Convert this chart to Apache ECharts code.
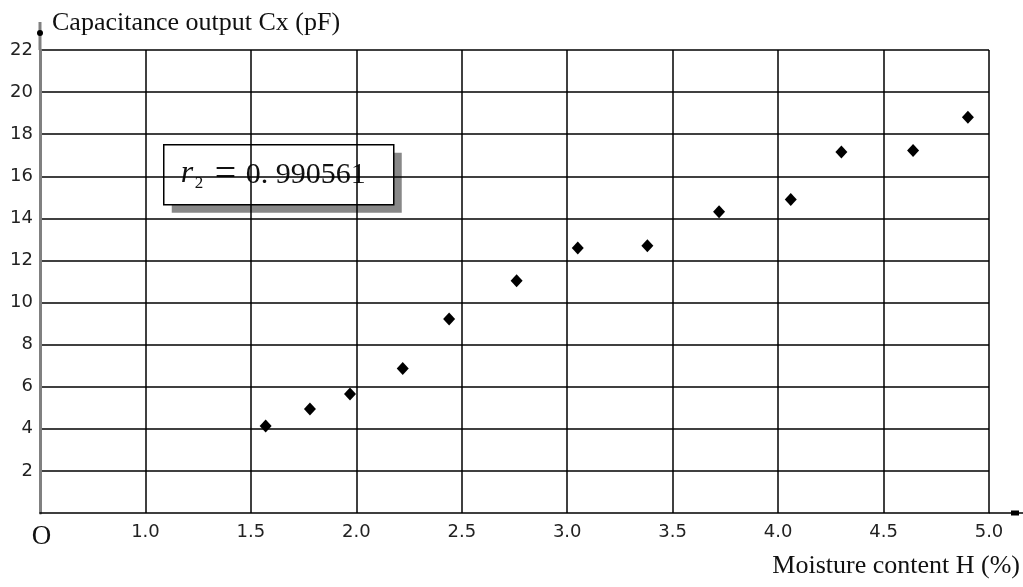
<!DOCTYPE html>
<html>
<head>
<meta charset="utf-8">
<script src="https://cdn.jsdelivr.net/npm/echarts@6/dist/echarts.min.js"></script>
<style>
  html, body { margin: 0; padding: 0; background: #fff; }
  #chart { width: 1023px; height: 587px; }
</style>
</head>
<body>
<div id="chart"></div>
<script>
// values
var moisture = [1.57, 1.78, 1.97, 2.22, 2.44, 2.76, 3.05, 3.38, 3.72, 4.06, 4.30, 4.64, 4.90];
var capacitance = [4.13, 4.94, 5.65, 6.87, 9.22, 11.04, 12.59, 12.70, 14.31, 14.90, 17.15, 17.23, 18.80];
var fitValue = '0. 990561';

var points = [];
for (var i = 0; i < moisture.length; i++) {
  points.push([moisture[i], capacitance[i]]);
}

var G = { left: 40, top: 50, width: 949, height: 463 };
var gRight = G.left + G.width, gBottom = G.top + G.height;

var serif = '"Liberation Serif", "DejaVu Serif", serif';
var sans = '"DejaVu Sans", sans-serif';

var myChart = echarts.init(document.getElementById('chart'));

var option = {
  backgroundColor: '#fff',
  animation: false,
  grid: { left: G.left, top: G.top, width: G.width, height: G.height },
  xAxis: {
    type: 'value',
    min: 0.5,
    max: 5,
    interval: 0.5,
    name: 'Moisture content H (%)',
    nameLocation: 'end',
    nameGap: 31,
    nameTextStyle: { fontFamily: serif, fontSize: 26, color: '#111', align: 'right', verticalAlign: 'top', padding: [40, 0, 0, 0] },
    axisLine: { show: true, lineStyle: { color: '#000', width: 1.5 } },
    axisTick: { show: false },
    axisLabel: {
      margin: 10,
      fontFamily: sans,
      fontSize: 18,
      color: '#222',
      formatter: function (v) {
        if (Math.abs(v - 0.5) < 1e-6) return '{o|O}';
        return v.toFixed(1);
      },
      rich: { o: { fontFamily: serif, fontSize: 27, color: '#111', padding: [0, 0, 4, 3] } }
    },
    splitLine: { show: true, showMinLine: false, lineStyle: { color: '#000', width: 1.5 } }
  },
  yAxis: {
    type: 'value',
    min: 0,
    max: 22,
    interval: 2,
    name: 'Capacitance output Cx (pF)',
    nameLocation: 'end',
    nameGap: 14,
    nameTextStyle: { fontFamily: serif, fontSize: 26, color: '#111', align: 'left', verticalAlign: 'bottom', padding: [0, 0, 0, 12] },
    axisLine: { show: true, lineStyle: { color: '#808080', width: 3 } },
    axisTick: { show: false },
    axisLabel: {
      margin: 7,
      fontFamily: sans,
      fontSize: 18,
      color: '#222',
      formatter: function (v) { return v === 0 ? '' : String(v); }
    },
    splitLine: { show: true, showMinLine: false, lineStyle: { color: '#000', width: 1.5 } }
  },
  series: [{
    type: 'scatter',
    data: points,
    symbol: 'diamond',
    symbolSize: [12, 13],
    itemStyle: { color: '#000', opacity: 1 },
    z: 5
  }],
  graphic: [
    // axis extensions past the grid
    { type: 'line', shape: { x1: G.left, y1: G.top, x2: G.left, y2: 22 }, style: { stroke: '#808080', lineWidth: 3 }, z: 10 },
    { type: 'circle', shape: { cx: G.left, cy: 33, r: 3 }, style: { fill: '#000' }, z: 11 },
    { type: 'line', shape: { x1: gRight, y1: gBottom, x2: 1023, y2: gBottom }, style: { stroke: '#000', lineWidth: 1.5 }, z: 10 },
    { type: 'rect', shape: { x: 1011, y: gBottom - 2.5, width: 8, height: 5 }, style: { fill: '#000' }, z: 11 },
    // fit annotation box
    {
      type: 'group', left: 163, top: 144, z: 20,
      children: [
        { type: 'rect', shape: { x: 8, y: 8, width: 230, height: 60 }, style: { fill: '#888' } },
        { type: 'rect', shape: { x: 0, y: 0, width: 230, height: 60 }, style: { fill: '#fff', stroke: '#000', lineWidth: 1.5 } },
        { type: 'text', x: 17, y: 29, style: { text: 'r', font: 'italic 32px ' + serif, fill: '#111', verticalAlign: 'middle' } },
        { type: 'text', x: 31, y: 39, style: { text: '2', font: '17px ' + serif, fill: '#111', verticalAlign: 'middle' } },
        { type: 'text', x: 51, y: 30, style: { text: '=', font: '38px ' + serif, fill: '#111', verticalAlign: 'middle' } },
        { type: 'text', x: 82, y: 30, style: { text: fitValue, font: '30px ' + serif, fill: '#111', verticalAlign: 'middle' } }
      ]
    }
  ]
};

myChart.setOption(option);
</script>
</body>
</html>
